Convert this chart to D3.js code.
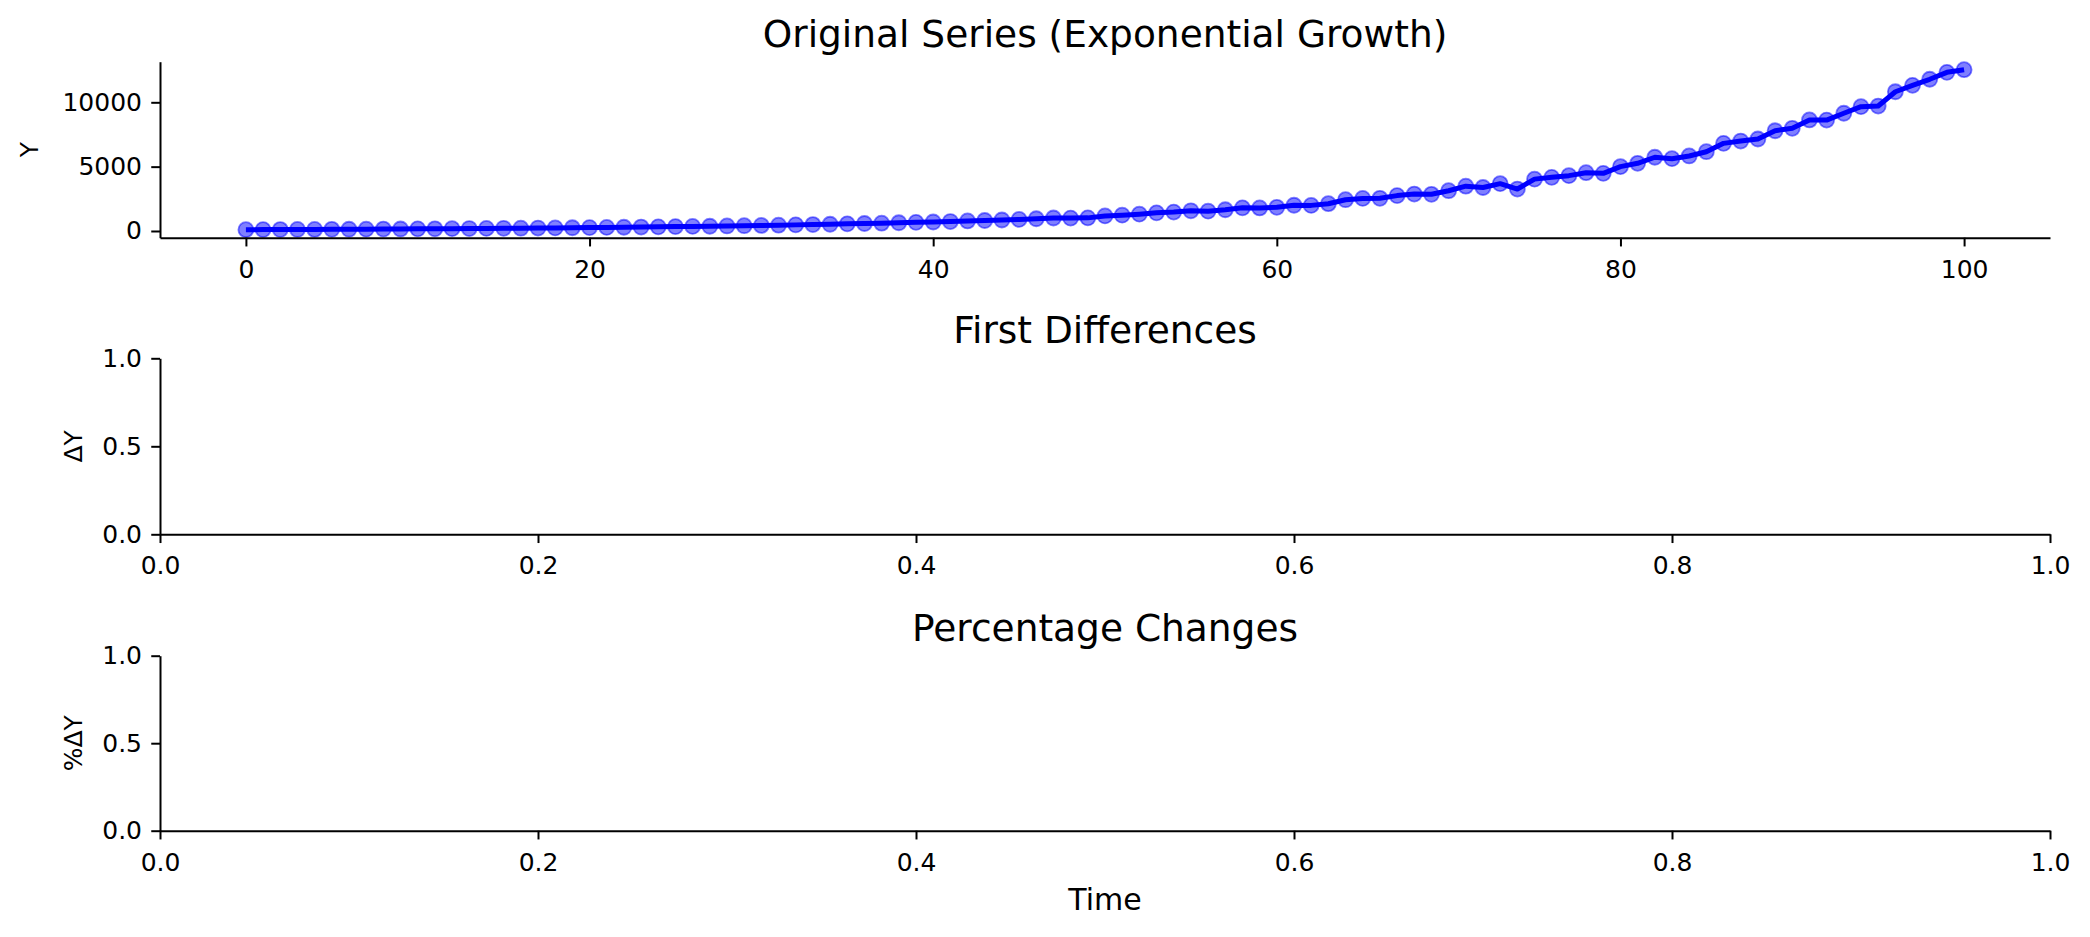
<!DOCTYPE html>
<html>
<head>
<meta charset="utf-8">
<script src="https://cdn.jsdelivr.net/npm/d3@7.9.0/dist/d3.min.js"></script>
<style>
  body { margin: 0; background: #fff; }
  svg { display: block; font-family: "DejaVu Sans", sans-serif; }
  .tick line, .domain { stroke: #000; stroke-width: 2px; }
  .tick text { font-family: "DejaVu Sans", sans-serif; font-size: 25px; fill: #000; }
</style>
</head>
<body>
<svg id="chart" width="2090" height="937"></svg>
<script>
// values (Y at t = 0..100)
const seriesY = [
  100, 108, 112, 118, 120, 130, 135, 140, 150, 155,
  165, 170, 180, 190, 200, 210, 215, 230, 240, 250,
  265, 280, 290, 305, 320, 340, 355, 370, 390, 410,
  430, 450, 475, 500, 525, 555, 580, 605, 640, 670,
  700, 735, 780, 815, 855, 900, 950, 1010, 1000, 1020,
  1170, 1230, 1310, 1410, 1470, 1570, 1540, 1650, 1800, 1790,
  1840, 2000, 1990, 2120, 2430, 2530, 2540, 2750, 2870, 2850,
  3130, 3480, 3380, 3680, 3260, 4030, 4170, 4300, 4530, 4480,
  5000, 5260, 5730, 5620, 5830, 6160, 6810, 6990, 7150, 7790,
  7980, 8630, 8620, 9150, 9660, 9710, 10820, 11320, 11790, 12330,
  12534
];
const time = seriesY.map((d, i) => i);

const titles = ['Original Series (Exponential Growth)', 'First Differences', 'Percentage Changes'];
const yLabels = ['Y', 'ΔY', '%ΔY'];
const xLabel = 'Time';
const topXTicks = [0, 20, 40, 60, 80, 100];
const topYTicks = [0, 5000, 10000];
const emptyXTicks = [0, 0.2, 0.4, 0.6, 0.8, 1.0];
const emptyYTicks = [0, 0.5, 1.0];

const svg = d3.select('#chart');
const left = 160, right = 2050;
const panels = [
  { top: 61.7, bottom: 237.7, labelX: 38 },
  { top: 358.3, bottom: 534.3, labelX: 82 },
  { top: 655.7, bottom: 830.7, labelX: 82 }
];

function drawAxes(g, x, y, xTicks, yTicks, xFmt, yFmt, p) {
  g.append('g')
    .attr('transform', `translate(0,${p.bottom})`)
    .call(d3.axisBottom(x).tickValues(xTicks).tickFormat(xFmt)
      .tickSize(8.75).tickSizeOuter(0).tickPadding(13.5));
  g.append('g')
    .attr('transform', `translate(${left},0)`)
    .call(d3.axisLeft(y).tickValues(yTicks).tickFormat(yFmt)
      .tickSize(8.75).tickSizeOuter(0).tickPadding(9.25));
}

panels.forEach((p, idx) => {
  const g = svg.append('g');
  let x, y;
  if (idx === 0) {
    const [lo, hi] = d3.extent(seriesY);
    const pad = (hi - lo) * 0.05;
    x = d3.scaleLinear().domain([-5, 105]).range([left, right]);
    y = d3.scaleLinear().domain([lo - pad, hi + pad]).range([p.bottom, p.top]);

    g.selectAll('circle')
      .data(seriesY)
      .join('circle')
      .attr('cx', (d, i) => x(time[i]))
      .attr('cy', d => y(d))
      .attr('r', 7.5)
      .attr('fill', 'blue')
      .attr('fill-opacity', 0.5)
      .attr('stroke', 'blue')
      .attr('stroke-opacity', 0.5)
      .attr('stroke-width', 1.8);

    g.append('path')
      .datum(seriesY)
      .attr('fill', 'none')
      .attr('stroke', 'blue')
      .attr('stroke-width', 5)
      .attr('stroke-linejoin', 'round')
      .attr('d', d3.line().x((d, i) => x(time[i])).y(d => y(d)));

    drawAxes(g, x, y, topXTicks, topYTicks, d3.format('d'), d3.format('d'), p);
  } else {
    x = d3.scaleLinear().domain([0, 1]).range([left, right]);
    y = d3.scaleLinear().domain([0, 1]).range([p.bottom, p.top]);
    drawAxes(g, x, y, emptyXTicks, emptyYTicks, d3.format('.1f'), d3.format('.1f'), p);
  }

  g.append('text')
    .attr('x', (left + right) / 2)
    .attr('y', p.top - 15)
    .attr('text-anchor', 'middle')
    .style('font-size', '37.5px')
    .text(titles[idx]);

  g.append('text')
    .attr('transform', `translate(${p.labelX},${(p.top + p.bottom) / 2}) rotate(-90)`)
    .attr('text-anchor', 'middle')
    .style('font-size', '25px')
    .text(yLabels[idx]);
});

svg.append('text')
  .attr('x', (left + right) / 2)
  .attr('y', 910)
  .attr('text-anchor', 'middle')
  .style('font-size', '30px')
  .text(xLabel);
</script>
</body>
</html>
